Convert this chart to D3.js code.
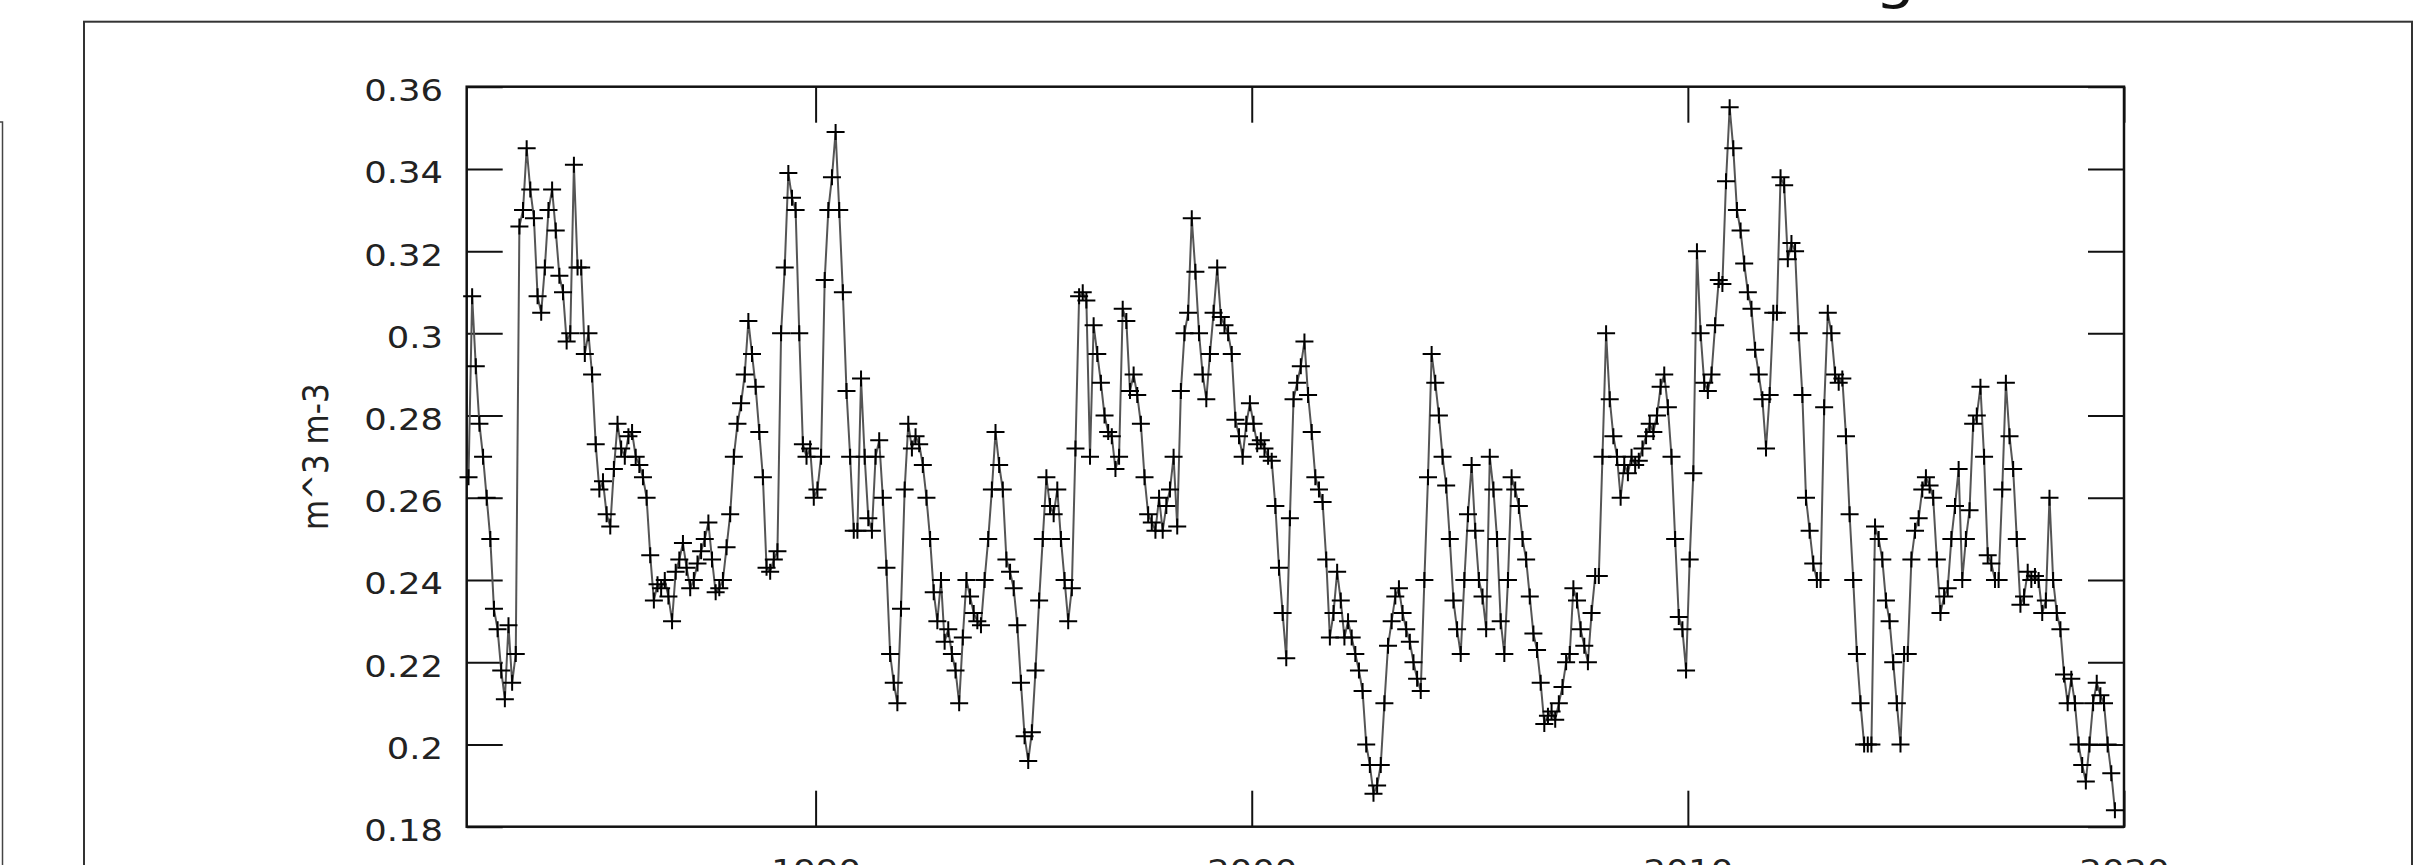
<!DOCTYPE html>
<html>
<head>
<meta charset="utf-8">
<script src="https://cdn.jsdelivr.net/npm/d3@7"></script>
<style>
  html, body { margin: 0; padding: 0; background: #fff; }
  svg { display: block; font-family: "DejaVu Sans", sans-serif; }
</style>
</head>
<body>
<div id="chart"></div>
<script>
// monthly values, one row per year, starting Jan 1982
const startYear = 1982;
const monthly = [
  [0.265, 0.309, 0.292, 0.278, 0.270, 0.260, 0.250, 0.233, 0.228, 0.218, 0.211, 0.229], // 1982
  [0.215, 0.222, 0.326, 0.330, 0.345, 0.335, 0.328, 0.309, 0.305, 0.316, 0.330, 0.335], // 1983
  [0.325, 0.314, 0.310, 0.298, 0.300, 0.341, 0.316, 0.316, 0.295, 0.300, 0.290, 0.273], // 1984
  [0.262, 0.264, 0.256, 0.253, 0.267, 0.278, 0.272, 0.270, 0.275, 0.276, 0.270, 0.268], // 1985
  [0.265, 0.260, 0.246, 0.235, 0.239, 0.238, 0.240, 0.236, 0.230, 0.242, 0.245, 0.249], // 1986
  [0.243, 0.238, 0.240, 0.244, 0.247, 0.250, 0.254, 0.245, 0.237, 0.238, 0.240, 0.248], // 1987
  [0.256, 0.270, 0.278, 0.283, 0.290, 0.303, 0.295, 0.287, 0.276, 0.265, 0.243, 0.242], // 1988
  [0.245, 0.247, 0.300, 0.316, 0.339, 0.333, 0.330, 0.300, 0.273, 0.270, 0.272, 0.260], // 1989
  [0.262, 0.270, 0.313, 0.330, 0.338, 0.349, 0.330, 0.310, 0.286, 0.270, 0.252, 0.252], // 1990
  [0.289, 0.270, 0.255, 0.252, 0.270, 0.274, 0.260, 0.243, 0.222, 0.215, 0.210, 0.233], // 1991
  [0.262, 0.278, 0.272, 0.275, 0.273, 0.268, 0.260, 0.250, 0.237, 0.230, 0.240, 0.225], // 1992
  [0.228, 0.222, 0.218, 0.210, 0.226, 0.240, 0.236, 0.232, 0.230, 0.229, 0.240, 0.250], // 1993
  [0.262, 0.276, 0.268, 0.262, 0.245, 0.242, 0.238, 0.229, 0.215, 0.202, 0.196, 0.203], // 1994
  [0.218, 0.235, 0.250, 0.265, 0.258, 0.256, 0.262, 0.250, 0.240, 0.230, 0.238, 0.272], // 1995
  [0.309, 0.310, 0.308, 0.270, 0.302, 0.295, 0.288, 0.280, 0.276, 0.275, 0.267, 0.270], // 1996
  [0.306, 0.303, 0.286, 0.290, 0.285, 0.278, 0.265, 0.256, 0.254, 0.252, 0.260, 0.252], // 1997
  [0.258, 0.262, 0.270, 0.253, 0.286, 0.300, 0.305, 0.328, 0.315, 0.300, 0.290, 0.284], // 1998
  [0.295, 0.305, 0.316, 0.304, 0.302, 0.300, 0.295, 0.279, 0.275, 0.270, 0.278, 0.283], // 1999
  [0.278, 0.273, 0.274, 0.272, 0.270, 0.269, 0.258, 0.243, 0.232, 0.221, 0.255, 0.284], // 2000
  [0.288, 0.292, 0.298, 0.285, 0.276, 0.265, 0.262, 0.259, 0.245, 0.226, 0.232, 0.242], // 2001
  [0.235, 0.226, 0.230, 0.226, 0.222, 0.218, 0.213, 0.200, 0.195, 0.188, 0.190, 0.195], // 2002
  [0.210, 0.224, 0.230, 0.236, 0.238, 0.232, 0.228, 0.225, 0.220, 0.216, 0.213, 0.240], // 2003
  [0.265, 0.295, 0.288, 0.280, 0.270, 0.263, 0.250, 0.235, 0.228, 0.222, 0.240, 0.256], // 2004
  [0.268, 0.252, 0.240, 0.236, 0.228, 0.270, 0.262, 0.250, 0.230, 0.222, 0.240, 0.265], // 2005
  [0.262, 0.258, 0.250, 0.245, 0.236, 0.227, 0.223, 0.215, 0.205, 0.207, 0.208, 0.206], // 2006
  [0.210, 0.214, 0.220, 0.222, 0.238, 0.235, 0.228, 0.224, 0.220, 0.232, 0.241, 0.241], // 2007
  [0.270, 0.300, 0.284, 0.275, 0.270, 0.260, 0.268, 0.266, 0.270, 0.268, 0.269, 0.272], // 2008
  [0.275, 0.278, 0.276, 0.280, 0.287, 0.290, 0.282, 0.270, 0.250, 0.231, 0.228, 0.218], // 2009
  [0.245, 0.266, 0.320, 0.300, 0.288, 0.286, 0.290, 0.302, 0.313, 0.312, 0.337, 0.355], // 2010
  [0.345, 0.330, 0.325, 0.317, 0.310, 0.306, 0.296, 0.290, 0.284, 0.272, 0.285, 0.305], // 2011
  [0.305, 0.338, 0.336, 0.318, 0.322, 0.320, 0.300, 0.285, 0.260, 0.252, 0.244, 0.240], // 2012
  [0.240, 0.282, 0.305, 0.300, 0.290, 0.288, 0.289, 0.275, 0.256, 0.240, 0.222, 0.210], // 2013
  [0.200, 0.200, 0.200, 0.253, 0.250, 0.245, 0.235, 0.230, 0.220, 0.210, 0.200, 0.222], // 2014
  [0.222, 0.245, 0.252, 0.255, 0.262, 0.265, 0.263, 0.260, 0.245, 0.232, 0.236, 0.238], // 2015
  [0.250, 0.258, 0.267, 0.240, 0.250, 0.257, 0.278, 0.280, 0.287, 0.270, 0.246, 0.244], // 2016
  [0.240, 0.240, 0.262, 0.288, 0.275, 0.267, 0.250, 0.234, 0.236, 0.242, 0.240, 0.241], // 2017
  [0.240, 0.232, 0.235, 0.260, 0.240, 0.232, 0.228, 0.217, 0.210, 0.216, 0.210, 0.200], // 2018
  [0.195, 0.191, 0.200, 0.210, 0.215, 0.212, 0.210, 0.200, 0.193, 0.184]                // 2019
];

const xTicks = [1990, 2000, 2010, 2020];
const yTicks = [0.18, 0.2, 0.22, 0.24, 0.26, 0.28, 0.3, 0.32, 0.34, 0.36];
const yLabel = "m^3 m-3";
const titleText = "g"; // only the bottom of the title is inside the picture

// flatten to points (mid-month)
const points = [];
monthly.forEach((row, yi) => {
  row.forEach((v, mi) => points.push({ t: startYear + yi + (mi + 0.5) / 12, v: v }));
});

const width = 2417, height = 865;
const plot = { left: 466.7, top: 86.7, right: 2124, bottom: 826.7 };
const tickLen = 36;
const fontSize = 31;
const stretch = 1.14; // source text is a bit wide

const svg = d3.select("#chart").append("svg")
  .attr("width", width)
  .attr("height", height);

svg.append("rect").attr("width", width).attr("height", height).attr("fill", "#fff");

// outer frames (panel edges)
svg.append("rect")
  .attr("x", 84).attr("y", 21.7)
  .attr("width", 2412 - 84).attr("height", 900)
  .attr("fill", "none").attr("stroke", "#333").attr("stroke-width", 2);

svg.append("rect")
  .attr("x", -100).attr("y", 122)
  .attr("width", 102.5).attr("height", 900)
  .attr("fill", "none").attr("stroke", "#444").attr("stroke-width", 1.5);

svg.append("text")
  .attr("transform", `translate(1895,-3) scale(${stretch},1)`)
  .attr("text-anchor", "middle")
  .attr("font-size", 56)
  .attr("fill", "#111")
  .text(titleText);

const x = d3.scaleLinear().domain([1982, 2020]).range([plot.left, plot.right]);
const y = d3.scaleLinear().domain([0.18, 0.36]).range([plot.bottom, plot.top]);

const axisStyle = g => {
  g.select(".domain").remove();
  g.selectAll(".tick line").attr("stroke", "#111").attr("stroke-width", 2);
  g.selectAll(".tick text").attr("fill", "#222").attr("font-size", fontSize)
    .attr("font-family", "DejaVu Sans, sans-serif");
};

// left axis, ticks inward
svg.append("g")
  .attr("transform", `translate(${plot.left},0)`)
  .call(d3.axisRight(y).tickValues(yTicks).tickSize(tickLen).tickFormat(d3.format("")))
  .call(axisStyle)
  .call(g => g.selectAll(".tick text")
    .attr("x", 0).attr("dy", "0.45em").attr("text-anchor", "end")
    .attr("transform", `translate(${-(plot.left - 443)},0) scale(${stretch},1)`));

// right mirror ticks
svg.append("g")
  .attr("transform", `translate(${plot.right},0)`)
  .call(d3.axisLeft(y).tickValues(yTicks).tickSize(tickLen).tickFormat(""))
  .call(axisStyle);

// bottom axis, ticks inward, labels below
svg.append("g")
  .attr("transform", `translate(0,${plot.bottom})`)
  .call(d3.axisTop(x).tickValues(xTicks).tickSize(tickLen).tickFormat(d3.format("d")))
  .call(axisStyle)
  .call(g => g.selectAll(".tick text").attr("y", 0).attr("dy", 0)
    .attr("transform", `translate(0,${881 - plot.bottom}) scale(${stretch},1)`));

// top mirror ticks
svg.append("g")
  .attr("transform", `translate(0,${plot.top})`)
  .call(d3.axisBottom(x).tickValues(xTicks).tickSize(tickLen).tickFormat(""))
  .call(axisStyle);

// plot border
svg.append("rect")
  .attr("x", plot.left).attr("y", plot.top)
  .attr("width", plot.right - plot.left).attr("height", plot.bottom - plot.top)
  .attr("fill", "none").attr("stroke", "#111").attr("stroke-width", 2.5);

// y label
svg.append("text")
  .attr("transform", `translate(328,${(plot.top + plot.bottom) / 2}) scale(${stretch},1) rotate(-90)`)
  .attr("text-anchor", "middle")
  .attr("font-size", fontSize)
  .attr("fill", "#222")
  .text(yLabel);

// series line
const line = d3.line().x(d => x(d.t)).y(d => y(d.v));
svg.append("path")
  .datum(points)
  .attr("d", line)
  .attr("fill", "none")
  .attr("stroke", "#555")
  .attr("stroke-width", 2);

// "+" markers
const armX = 9, armY = 8;
svg.append("g")
  .selectAll("path")
  .data(points)
  .join("path")
  .attr("d", d => {
    const cx = x(d.t), cy = y(d.v);
    return `M${cx - armX},${cy}H${cx + armX}M${cx},${cy - armY}V${cy + armY}`;
  })
  .attr("stroke", "#000")
  .attr("stroke-width", 2)
  .attr("fill", "none");
</script>
</body>
</html>
